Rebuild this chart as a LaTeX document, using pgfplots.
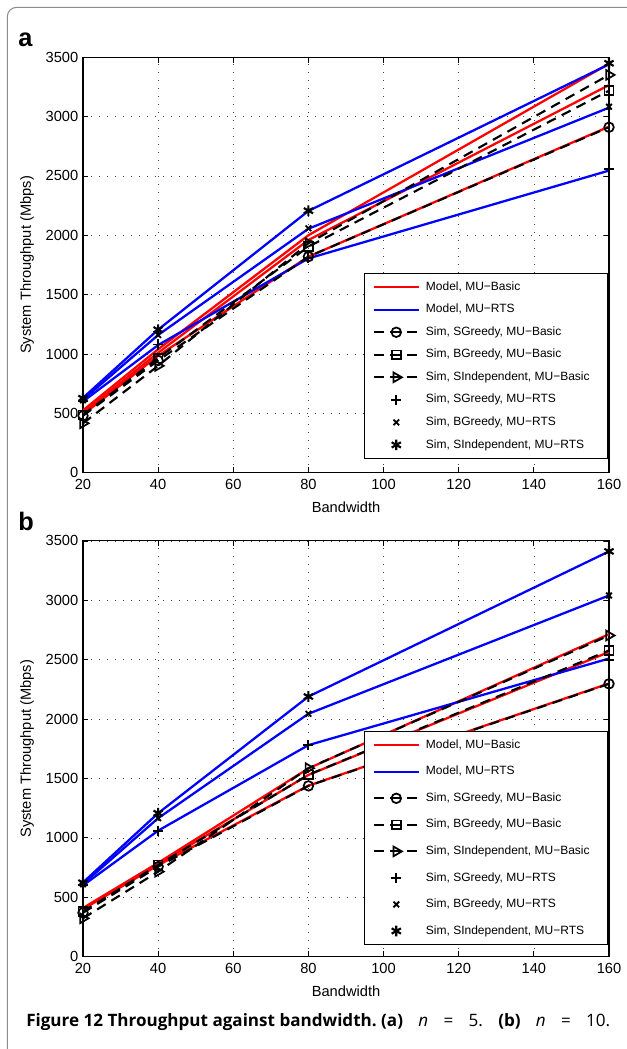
\documentclass[border=0pt]{standalone}
\usepackage{pgfplots}
\pgfplotsset{compat=1.18}
\usepackage{fontspec}
\setmainfont{Liberation Sans}
\newfontfamily\capfont{Open Sans}

\pgfplotsset{
  myaxis/.style={
    scale only axis, width=394.5pt,
    xmin=20, xmax=160, ymin=0, ymax=3500,
    xtick={20,40,...,160}, ytick={0,500,...,3500},
    grid=major,
    major grid style={black!75, line width=0.5pt, dash pattern=on 0.6pt off 5.4pt},
    tick align=inside, major tick length=4pt,
    tick style={black, line width=0.6pt},
    axis line style={line width=0.8pt},
    ticklabel style={font=\fontsize{11}{12}\selectfont},
    xticklabel style={yshift=-1.5pt},
    /pgf/number format/assume math mode=true,
    /pgf/number format/1000 sep={},
    scaled y ticks=false,
    label style={font=\fontsize{11}{12}\selectfont},
    xlabel={Bandwidth}, ylabel={System Throughput (Mbps)},
    xlabel style={at={(axis description cs:0.5,-0.0826)}, anchor=center},
    ylabel style={at={(axis description cs:-0.1065,0.5)}, anchor=center},
    legend cell align=left,
    legend image code/.code={\draw[mark repeat=2,mark phase=2,##1] plot coordinates {(0pt,0pt)(16.875pt,0pt)(33.75pt,0pt)};},
  },
  redl/.style={red, line width=1.7pt, no marks},
  bluel/.style={blue, line width=1.7pt, no marks},
  simb/.style={black, line width=1.6pt, dash pattern=on 7.5pt off 5pt, mark options={solid, line width=1.3pt}},
  simr/.style={black, only marks, mark options={solid, line width=1.4pt}},
}

% ---------- panel a (n = 5) ----------
\pgfplotstableread{
x   mb1  mb2  mb3  mr1  mr2  mr3  so   sq   st   sp   sx   ss
20  490  505  525  600  615  630  480  486  416  600  610  627
40  985  1010 1040 1075 1160 1205 945  965  900  1080 1160 1205
80  1820 1960 2000 1805 2055 2205 1820 1904 1933 1810 2059 2207
160 2915 3265 3445 2545 3075 3440 2910 3218 3351 2556 3083 3449
}\dataA

% ---------- panel b (n = 10) ----------
\pgfplotstableread{
x   mb1  mb2  mb3  mr1  mr2  mr3  so   sq   st   sp   sx   ss
20  400  405  410  600  612  625  370  380  323  600  610  623
40  770  780  790  1061 1166 1208 758  772  716  1061 1166 1208
80  1440 1530 1585 1781 2045 2190 1438 1531 1587 1781 2045 2190
160 2300 2565 2715 2510 3041 3412 2297 2578 2704 2500 3041 3412
}\dataB

\begin{document}
\frenchspacing
\begin{tikzpicture}
\useasboundingbox (0,0) rectangle (469.5pt,-786.75pt);
\draw[black!45, line width=0.8pt, rounded corners=7pt] (5.5pt,-790pt) -- (5.5pt,-5.5pt) -- (475pt,-5.5pt);

\node[anchor=base west, inner sep=0pt, font=\bfseries\fontsize{19}{20}\selectfont] at (13.5pt,-35.25pt) {a};
\node[anchor=base west, inner sep=0pt, font=\bfseries\fontsize{19}{20}\selectfont] at (13.5pt,-398pt) {b};

\begin{axis}[myaxis, at={(62.25pt,-354.5pt)}, anchor=south west, height=311.6pt,
  legend style={at={(axis description cs:0.998,0.032)}, anchor=south east,
    draw=black, line width=0.8pt, fill=white, inner sep=6.3pt,
    font=\fontsize{9}{10}\selectfont,
    nodes={inner sep=0pt, text height=6.5pt, text depth=1.8pt}, row sep=8.6pt,
    /tikz/every odd column/.append style={column sep=4.5pt}}]
\addplot[redl] table[x=x,y=mb3]{\dataA};
\addlegendentry{Model, MU−Basic}
\addplot[redl, forget plot] table[x=x,y=mb2]{\dataA};
\addplot[redl, forget plot] table[x=x,y=mb1]{\dataA};
\addplot[bluel] table[x=x,y=mr3]{\dataA};
\addlegendentry{Model, MU−RTS}
\addplot[bluel, forget plot] table[x=x,y=mr2]{\dataA};
\addplot[bluel, forget plot] table[x=x,y=mr1]{\dataA};
\addplot[simb, mark=o, mark size=3.6pt] table[x=x,y=so]{\dataA};
\addlegendentry{Sim, SGreedy, MU−Basic}
\addplot[simb, mark=square, mark size=3.3pt] table[x=x,y=sq]{\dataA};
\addlegendentry{Sim, BGreedy, MU−Basic}
\addplot[simb, mark=triangle, mark size=4.2pt, mark options={solid, rotate=-90, line width=1.3pt}] table[x=x,y=st]{\dataA};
\addlegendentry{Sim, SIndependent, MU−Basic\hspace*{7pt}}
\addplot[simr, mark=+, mark size=3.8pt] table[x=x,y=sp]{\dataA};
\addlegendentry{Sim, SGreedy, MU−RTS}
\addplot[simr, mark=x, mark size=3pt] table[x=x,y=sx]{\dataA};
\addlegendentry{Sim, BGreedy, MU−RTS}
\addplot[simr, mark=asterisk, mark size=4pt, mark options={solid, line width=1.6pt}] table[x=x,y=ss]{\dataA};
\addlegendentry{Sim, SIndependent, MU−RTS}
\end{axis}

\begin{axis}[myaxis, at={(62.25pt,-717.5pt)}, anchor=south west, height=311.8pt,
  legend style={at={(axis description cs:0.998,0.027)}, anchor=south east,
    draw=black, line width=0.8pt, fill=white, inner sep=6.3pt,
    font=\fontsize{9}{10}\selectfont,
    nodes={inner sep=0pt, text height=6.5pt, text depth=1.8pt}, row sep=11.6pt,
    /tikz/every odd column/.append style={column sep=4.5pt}}]
\addplot[redl] table[x=x,y=mb3]{\dataB};
\addlegendentry{Model, MU−Basic}
\addplot[redl, forget plot] table[x=x,y=mb2]{\dataB};
\addplot[redl, forget plot] table[x=x,y=mb1]{\dataB};
\addplot[bluel] table[x=x,y=mr3]{\dataB};
\addlegendentry{Model, MU−RTS}
\addplot[bluel, forget plot] table[x=x,y=mr2]{\dataB};
\addplot[bluel, forget plot] table[x=x,y=mr1]{\dataB};
\addplot[simb, mark=o, mark size=3.6pt] table[x=x,y=so]{\dataB};
\addlegendentry{Sim, SGreedy, MU−Basic}
\addplot[simb, mark=square, mark size=3.3pt] table[x=x,y=sq]{\dataB};
\addlegendentry{Sim, BGreedy, MU−Basic}
\addplot[simb, mark=triangle, mark size=4.2pt, mark options={solid, rotate=-90, line width=1.3pt}] table[x=x,y=st]{\dataB};
\addlegendentry{Sim, SIndependent, MU−Basic\hspace*{7pt}}
\addplot[simr, mark=+, mark size=3.8pt] table[x=x,y=sp]{\dataB};
\addlegendentry{Sim, SGreedy, MU−RTS}
\addplot[simr, mark=x, mark size=3pt] table[x=x,y=sx]{\dataB};
\addlegendentry{Sim, BGreedy, MU−RTS}
\addplot[simr, mark=asterisk, mark size=4pt, mark options={solid, line width=1.6pt}] table[x=x,y=ss]{\dataB};
\addlegendentry{Sim, SIndependent, MU−RTS}
\end{axis}

\node[anchor=base west, inner sep=0pt] at (19.5pt,-770pt)
  {\capfont\fontsize{12.8}{14}\selectfont\frenchspacing\makebox[438pt][s]{\mbox{\textbf{Figure 12 Throughput against bandwidth. (a)}} \textit{n} = 5. \textbf{(b)} \textit{n} = 10.}};
\end{tikzpicture}
\end{document}
